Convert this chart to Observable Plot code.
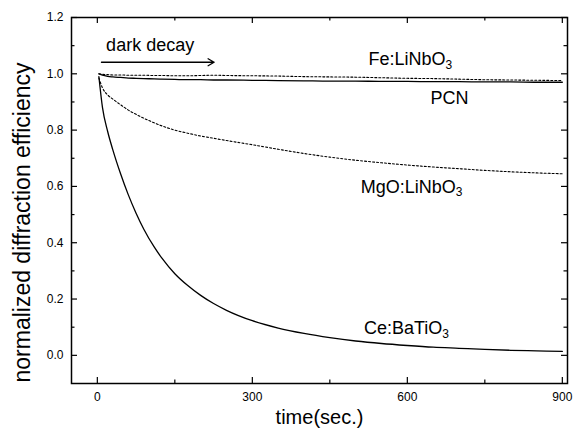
<!DOCTYPE html>
<html>
<head>
<meta charset="utf-8">
<script src="https://cdn.jsdelivr.net/npm/d3@7"></script>
<script src="https://cdn.jsdelivr.net/npm/@observablehq/plot@0.6"></script>
<style>
  html, body { margin: 0; padding: 0; background: #fff; }
  svg { font-family: "Liberation Sans", Arial, Helvetica, sans-serif; }
</style>
</head>
<body>
<div id="chart"></div>
<script>
// ---- data ----
const time = [3, 10, 20, 30, 45, 60, 75, 90, 110, 125, 150, 175, 200, 225, 250, 300, 350, 400, 450, 500, 550, 600, 650, 700, 750, 800, 850, 900];
const feLiNbO3 = [1.0, 0.998, 0.997, 0.996, 0.996, 0.995, 0.995, 0.995, 0.994, 0.994, 0.993, 0.993, 0.994, 0.995, 0.994, 0.993, 0.992, 0.990, 0.989, 0.988, 0.986, 0.984, 0.983, 0.981, 0.979, 0.978, 0.977, 0.976];
const pcn = [1.0, 0.995, 0.991, 0.989, 0.987, 0.985, 0.984, 0.983, 0.982, 0.981, 0.980, 0.979, 0.979, 0.978, 0.978, 0.977, 0.976, 0.975, 0.974, 0.974, 0.973, 0.973, 0.972, 0.972, 0.971, 0.971, 0.970, 0.970];
const mgoLiNbO3 = [0.985, 0.95, 0.925, 0.91, 0.89, 0.871, 0.856, 0.842, 0.826, 0.815, 0.80, 0.789, 0.779, 0.771, 0.763, 0.748, 0.732, 0.717, 0.704, 0.693, 0.684, 0.676, 0.669, 0.663, 0.657, 0.652, 0.648, 0.645];
const ceBaTiO3 = [0.99, 0.88, 0.795, 0.73, 0.645, 0.57, 0.505, 0.448, 0.385, 0.345, 0.29, 0.248, 0.213, 0.184, 0.16, 0.123, 0.097, 0.078, 0.063, 0.051, 0.042, 0.035, 0.029, 0.025, 0.021, 0.018, 0.016, 0.014];

const xMajor = [0, 300, 600, 900];
const xMinor = [150, 450, 750];
const yMajor = [0, 0.2, 0.4, 0.6, 0.8, 1.0, 1.2];
const yMinor = [0.1, 0.3, 0.5, 0.7, 0.9, 1.1];

const labelNames = ["Fe:LiNbO3", "PCN", "MgO:LiNbO3", "Ce:BaTiO3"];
const labelX = [525, 645, 510, 516];
const labelY = [1.03, 0.894, 0.578, 0.076];

const arrowText = "dark decay";
const arrowTextX = 17, arrowTextY = 1.08;
const arrowX = [8, 226];
const arrowY = 1.041;

const xTitle = "time(sec.)";
const yTitle = "normalized diffraction efficiency";

// ---- build tables ----
const series = [
  {name: "Fe:LiNbO3", values: feLiNbO3, dash: "2,2"},
  {name: "PCN", values: pcn, dash: null},
  {name: "MgO:LiNbO3", values: mgoLiNbO3, dash: "2,2"},
  {name: "Ce:BaTiO3", values: ceBaTiO3, dash: null}
];
const W = 586, H = 433;
const mL = 71, mR = 19, mT = 17, mB = 50;
const plotW = W - mL - mR, plotH = H - mT - mB;
const maj = 6, minr = 3.5;

const lineMarks = series.map(s => Plot.line(time.map((t, i) => ({t, v: s.values[i]})), {
  x: "t", y: "v", stroke: "black", strokeWidth: s.dash ? 1.1 : 1.3, strokeDasharray: s.dash, curve: "monotone-x"
}));

const labels = labelNames.map((n, i) => ({n, x: labelX[i], y: labelY[i]}));

const chart = Plot.plot({
  width: W, height: H,
  marginLeft: mL, marginRight: mR, marginTop: mT, marginBottom: mB,
  style: {fontFamily: "'Liberation Sans', Arial, Helvetica, sans-serif", background: "white", color: "black"},
  x: {domain: [-50, 910]},
  y: {domain: [-0.1, 1.2]},
  marks: [
    ...lineMarks,
    Plot.frame({stroke: "black", strokeWidth: 1.5}),
    // inward ticks on all four sides
    Plot.tickX(xMajor, {x: d => d, insetTop: plotH - maj, stroke: "black", strokeWidth: 1.2}),
    Plot.tickX(xMinor, {x: d => d, insetTop: plotH - minr, stroke: "black", strokeWidth: 1.2}),
    Plot.tickX(xMajor, {x: d => d, insetBottom: plotH - maj, stroke: "black", strokeWidth: 1.2}),
    Plot.tickX(xMinor, {x: d => d, insetBottom: plotH - minr, stroke: "black", strokeWidth: 1.2}),
    Plot.tickY(yMajor, {y: d => d, insetRight: plotW - maj, stroke: "black", strokeWidth: 1.2}),
    Plot.tickY(yMinor, {y: d => d, insetRight: plotW - minr, stroke: "black", strokeWidth: 1.2}),
    Plot.tickY(yMajor, {y: d => d, insetLeft: plotW - maj, stroke: "black", strokeWidth: 1.2}),
    Plot.tickY(yMinor, {y: d => d, insetLeft: plotW - minr, stroke: "black", strokeWidth: 1.2}),
    // tick labels
    Plot.axisX({ticks: xMajor, tickSize: 0, tickPadding: 9, fontSize: 12, label: null, tickFormat: d => String(d)}),
    Plot.axisY({ticks: yMajor, tickSize: 0, tickPadding: 8, fontSize: 12, label: null, tickFormat: d3.format(".1f")}),
    // titles
    Plot.text([xTitle], {frameAnchor: "bottom", dy: 34, text: d => d, fontSize: 20, textAnchor: "middle", lineAnchor: "middle", fill: "black"}),
    Plot.text([yTitle], {frameAnchor: "left", dx: -49, dy: 22, rotate: -90, text: d => d, fontSize: 23, textAnchor: "middle", lineAnchor: "middle", fill: "black"}),
    // annotation
    Plot.text([arrowText], {x: () => arrowTextX, y: () => arrowTextY, text: d => d, textAnchor: "start", lineAnchor: "bottom", fontSize: 18, fill: "black"}),
    Plot.arrow([arrowX], {x1: d => d[0], x2: d => d[1], y1: () => arrowY, y2: () => arrowY, stroke: "black", strokeWidth: 1.3, headLength: 8, bend: 0}),
    // series labels
    Plot.text(labels, {x: "x", y: "y", text: "n", textAnchor: "start", lineAnchor: "bottom", fontSize: 18, fill: "black"})
  ]
});

// subscript the trailing 3 in chemical formulas
chart.querySelectorAll("text").forEach(t => {
  if (t.children.length === 0 && /O3$/.test(t.textContent)) {
    const s = t.textContent;
    t.textContent = s.slice(0, -1);
    const ts = document.createElementNS("http://www.w3.org/2000/svg", "tspan");
    ts.setAttribute("dy", "0.3em");
    ts.setAttribute("font-size", "12");
    ts.textContent = "3";
    t.appendChild(ts);
  }
});

document.getElementById("chart").appendChild(chart);
</script>
</body>
</html>
